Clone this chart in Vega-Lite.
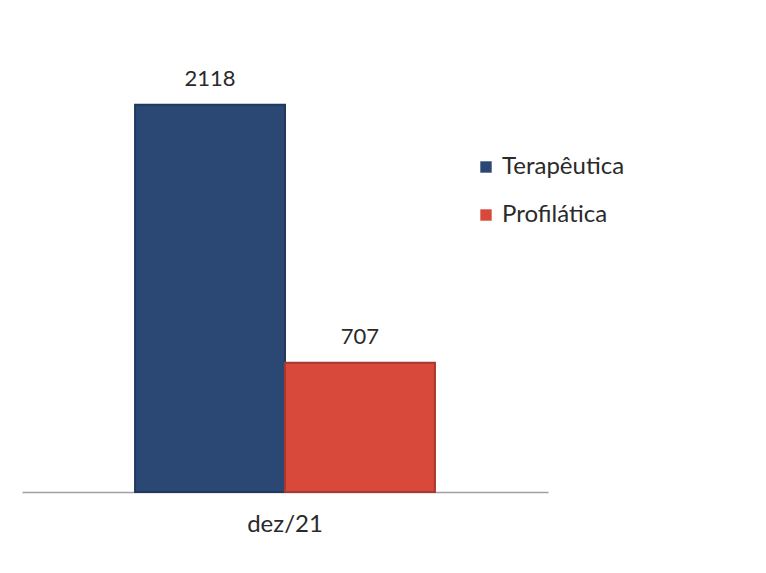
{
  "$schema": "https://vega.github.io/schema/vega-lite/v6.json",
  "autosize": "none",
  "width": 526,
  "height": 457,
  "padding": {"left": 22, "top": 35, "right": 218, "bottom": 81},
  "background": "white",
  "data": {"values": [
    {"mes": "dez/21", "tipo": "Terapêutica", "valor": 2118},
    {"mes": "dez/21", "tipo": "Profilática", "valor": 707}
  ]},
  "encoding": {
    "x": {"field": "mes", "type": "nominal", "title": null,
      "scale": {"paddingInner": 0, "paddingOuter": 0.377},
      "axis": {"labelAngle": 0, "labelFont": "Lato", "labelFontSize": 24, "labelColor": "#2a2a2a",
        "labelPadding": 20, "domainColor": "#a0a0a0", "domainWidth": 1.5, "ticks": false}},
    "xOffset": {"field": "tipo", "type": "nominal", "sort": ["Terapêutica", "Profilática"], "scale": {"paddingInner": 0, "paddingOuter": 0}},
    "y": {"field": "valor", "type": "quantitative", "scale": {"domain": [0, 2500]}, "axis": null}
  },
  "layer": [
    {
      "mark": {"type": "bar", "strokeWidth": 2},
      "encoding": {
        "color": {"field": "tipo", "type": "nominal", "sort": ["Terapêutica", "Profilática"],
          "scale": {"domain": ["Terapêutica", "Profilática"], "range": ["#2b4774", "#d8493c"]},
          "legend": {"title": null, "orient": "none", "legendX": 452, "legendY": 120,
            "symbolType": "square", "symbolSize": 130, "symbolStrokeWidth": 0,
            "labelFont": "Lato", "labelFontSize": 24, "labelColor": "#2a2a2a", "labelOffset": 4,
            "rowPadding": 24}},
        "stroke": {"field": "tipo", "type": "nominal", "sort": ["Terapêutica", "Profilática"],
          "scale": {"domain": ["Terapêutica", "Profilática"], "range": ["#22375c", "#a8382e"]}, "legend": null}
      }
    },
    {
      "mark": {"type": "text", "baseline": "bottom", "dy": -14, "font": "Lato", "fontSize": 22, "color": "#2a2a2a"},
      "encoding": {"text": {"field": "valor", "type": "quantitative"}}
    }
  ],
  "config": {"view": {"stroke": null}}
}
